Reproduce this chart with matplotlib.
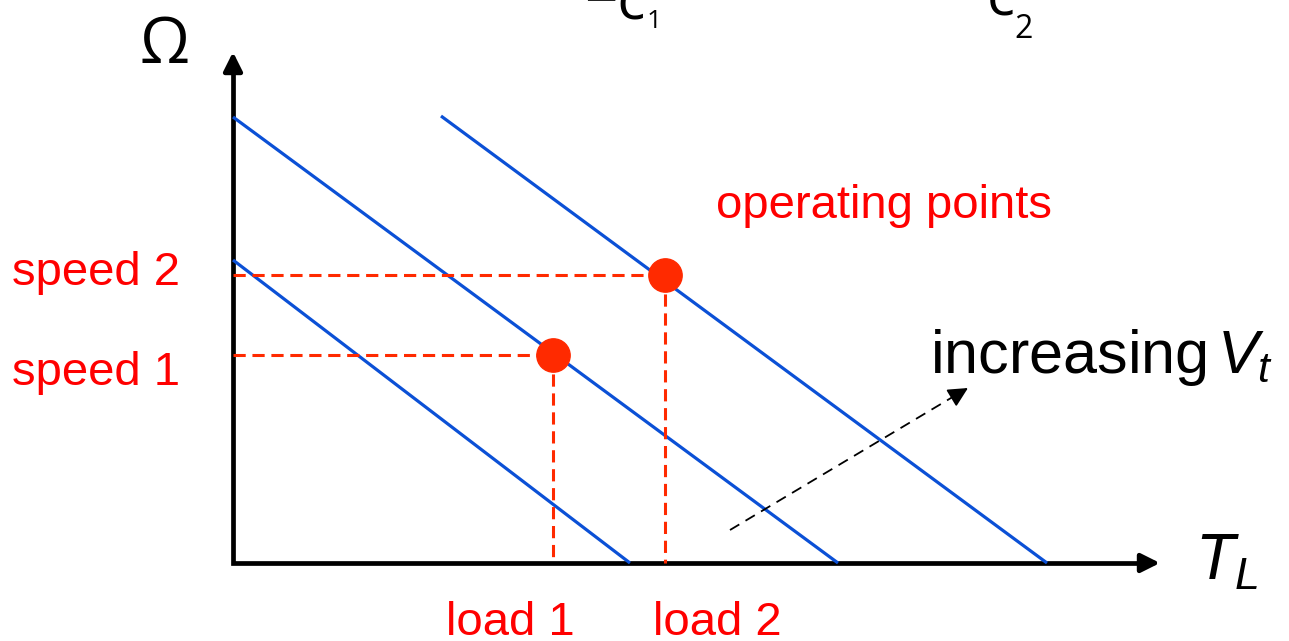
import matplotlib.pyplot as plt

plt.rcParams['font.family'] = 'Liberation Sans'
plt.rcParams['mathtext.fontset'] = 'custom'
plt.rcParams['mathtext.rm'] = 'Liberation Sans'
plt.rcParams['mathtext.it'] = 'Liberation Sans:italic'

# torque-speed lines (T_L, Omega), lowest to highest terminal voltage
line_T_start = [0.0, 0.0, 2.08]
line_W_start = [3.03, 4.46, 4.47]
line_T_end = [3.97, 6.05, 8.14]
line_W_end = [0.0, 0.0, 0.0]

# operating points
loads = [3.20, 4.32]
speeds = [2.08, 2.88]
load_labels = ['load 1', 'load 2']
speed_labels = ['speed 1', 'speed 2']

# axis extents
T_max = 9.27
W_max = 5.11

# "increasing Vt" arrow
arrow_start = (4.97, 0.33)
arrow_tip = (7.35, 1.75)

blue = '#0B50D6'
red = '#FF2A00'

fig = plt.figure(figsize=(12.89, 6.41), dpi=100)
ax = fig.add_axes([0, 0, 1, 1])
ax.set_xlim(-2.33, 10.56)
ax.set_ylim(-0.78, 5.63)
ax.axis('off')

# axes with arrows
ax.plot([0, 0, T_max - 0.15], [W_max - 0.15, 0, 0], color='k', lw=3.4,
        solid_joinstyle='miter', solid_capstyle='butt')
ax.annotate('', xy=(T_max, 0), xytext=(T_max - 0.2, 0),
            arrowprops=dict(arrowstyle='-|>', color='k', lw=3.4,
                            mutation_scale=28, shrinkA=0, shrinkB=0))
ax.annotate('', xy=(0, W_max), xytext=(0, W_max - 0.2),
            arrowprops=dict(arrowstyle='-|>', color='k', lw=3.4,
                            mutation_scale=28, shrinkA=0, shrinkB=0))

# characteristic lines
for t0, w0, t1, w1 in zip(line_T_start, line_W_start, line_T_end, line_W_end):
    ax.plot([t0, t1], [w0, w1], color=blue, lw=2.3, solid_capstyle='butt')

# dashed guides and operating points
for T, W in zip(loads, speeds):
    ax.plot([0, T], [W, W], color=red, lw=2.2, ls=(0, (4, 2.2)))
    ax.plot([T, T], [W, 0], color=red, lw=2.2, ls=(0, (4, 2.2)))
ax.plot(loads, speeds, 'o', color=red, ms=24, zorder=5)

# labels
speed_label_y = [1.78, 2.78]
for lbl, y in zip(speed_labels, speed_label_y):
    ax.text(-2.21, y, lbl, color='red', fontsize=34, ha='left', va='baseline')
load_label_x = [2.13, 4.20]
for lbl, x in zip(load_labels, load_label_x):
    ax.text(x, -0.72, lbl, color='red', fontsize=34, ha='left', va='baseline')
ax.text(4.83, 3.45, 'operating points', color='red', fontsize=34,
        ha='left', va='baseline')

# dashed arrow
ax.plot([arrow_start[0], arrow_tip[0] - 0.12], [arrow_start[1], arrow_tip[1] - 0.07],
        color='k', lw=1.3, ls=(0, (6, 4)))
ax.annotate('', xy=arrow_tip, xytext=(arrow_tip[0] - 0.15, arrow_tip[1] - 0.09),
            arrowprops=dict(arrowstyle='-|>', color='k', lw=1.3,
                            mutation_scale=30, shrinkA=0, shrinkB=0))
ax.text(6.97, 1.90, r'increasing$\,V_t$', fontsize=44, ha='left', va='baseline')

# axis titles
ax.text(9.62, -0.17, r'$T_L$', fontsize=46, ha='left', va='baseline')
ax.text(-0.93, 5.00, 'Ω', fontsize=46, family='Open Sans', ha='left', va='baseline')

# cut-off labels at the top
ax.text(4.12, 5.43, '−c', fontsize=42, family='Open Sans', ha='right', va='baseline')
ax.text(4.14, 5.35, '1', fontsize=19, family='Open Sans', ha='left', va='baseline')
ax.text(7.82, 5.48, 'c', fontsize=42, family='Open Sans', ha='right', va='baseline')
ax.text(7.81, 5.25, '2', fontsize=23, family='Open Sans', ha='left', va='baseline')

fig.savefig('out.png', dpi=100)
